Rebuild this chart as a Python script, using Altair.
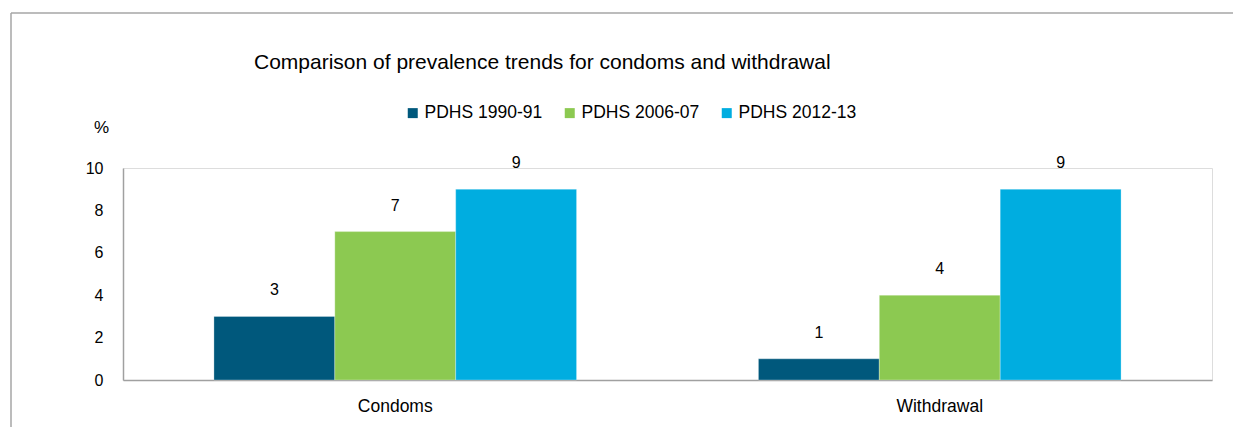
import altair as alt
import pandas as pd

methods = ["Condoms", "Withdrawal"]
surveys = ["PDHS 1990-91", "PDHS 2006-07", "PDHS 2012-13"]
condoms = [3, 7, 9]
withdrawal = [1, 4, 9]
colors = ["#00587c", "#8cc951", "#00ade0"]
y_ticks = [0, 2, 4, 6, 8, 10]
title_text = "Comparison of prevalence trends for condoms and withdrawal"

rows = []
for m, vals in zip(methods, [condoms, withdrawal]):
    for s, v in zip(surveys, vals):
        rows.append({"method": m, "survey": s, "value": v})
df = pd.DataFrame(rows)

FONT = "Liberation Sans"
W, H = 1089, 212
PAD = {"left": 123, "top": 168, "right": 21, "bottom": 47}

x_enc = alt.X(
    "method:N", sort=methods,
    scale=alt.Scale(paddingInner=0.334, paddingOuter=0.167),
    axis=alt.Axis(title=None, labelAngle=0, ticks=False, domainColor="#a0a0a0",
                  domainWidth=1.5, labelFontSize=17.5, labelPadding=17,
                  labelColor="#000000", labelFont=FONT),
)
xo_enc = alt.XOffset("survey:N", sort=surveys,
                     scale=alt.Scale(paddingInner=0, paddingOuter=0))
y_enc = alt.Y(
    "value:Q", scale=alt.Scale(domain=[0, 10]),
    axis=alt.Axis(values=y_ticks, grid=False, ticks=False, title="%",
                  titleAngle=0, titleX=-22, titleY=-41, titleAlign="center",
                  titleBaseline="middle", titleFontWeight="normal",
                  titleFontSize=17, titleFont=FONT, titleColor="#000000",
                  labelFontSize=16, labelPadding=20, labelColor="#000000",
                  labelFont=FONT, domainColor="#a0a0a0", domainWidth=1.5),
)

bars = alt.Chart(df).mark_bar(stroke="#ffffff", strokeWidth=0.3).encode(
    x=x_enc, xOffset=xo_enc, y=y_enc,
    color=alt.Color(
        "survey:N", sort=surveys,
        scale=alt.Scale(domain=surveys, range=colors),
        legend=alt.Legend(title=None, orient="none", direction="horizontal",
                          legendX=281, legendY=-64, symbolType="square",
                          symbolSize=100, symbolStrokeWidth=0,
                          labelFontSize=17.5, labelFont=FONT,
                          labelColor="#000000", labelOffset=3,
                          columnPadding=18, padding=0),
    ),
)

labels = alt.Chart(df).mark_text(dy=-26, fontSize=16, font=FONT, color="#000000").encode(
    x=alt.X("method:N", sort=methods), xOffset=alt.XOffset("survey:N", sort=surveys),
    y="value:Q", text="value:Q",
)

frame_df = pd.DataFrame({"k": [0]})
top_border = alt.Chart(frame_df).mark_rule(color="#a6a6a6", strokeWidth=1.5).encode(
    x=alt.value(-112), x2=alt.value(W + 40), y=alt.value(-155))
left_border = alt.Chart(frame_df).mark_rule(color="#a6a6a6", strokeWidth=1.5).encode(
    x=alt.value(-112), y=alt.value(-155), y2=alt.value(H + 60))

chart = alt.layer(top_border, left_border, bars, labels).properties(
    width=W, height=H,
    padding=PAD,
    autosize=alt.AutoSizeParams(type="none"),
    title=alt.TitleParams(title_text, anchor="start", frame="group", dx=131,
                          fontSize=21, fontWeight="normal", font=FONT,
                          color="#000000", dy=65),
).resolve_scale(x="shared").configure_view(stroke=None).configure(background="#ffffff")

chart.save("out.html", embed_options={"renderer": "svg", "actions": False})
